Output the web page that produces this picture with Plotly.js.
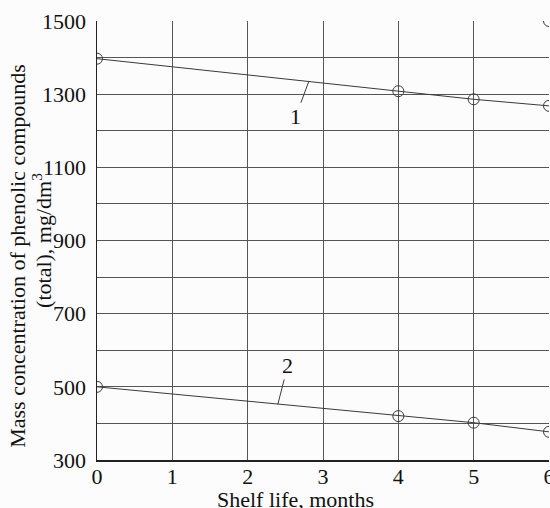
<!DOCTYPE html>
<html>
<head>
<meta charset="utf-8">
<script src="https://cdn.plot.ly/plotly-3.0.1.min.js"></script>
<style>html,body{margin:0;padding:0;background:#fdfcfd;}#chart{width:550px;height:508px;}</style>
</head>
<body>
<div id="chart"></div>
<script>
// Data
const months = [0, 4, 5, 6];
const series1 = [1397, 1308, 1286, 1268];
const series2 = [500, 420, 402, 377];
const extraX = [6];
const extraY = [1500];
const xTicks = [0, 1, 2, 3, 4, 5, 6];
const yTickVals = [300, 500, 700, 900, 1100, 1300, 1500];

const lineCol = '#3a3a3a';
const serif = 'Liberation Serif, Times New Roman, serif';
const txt = '#111';

const traces = [
  {x: months, y: series1, mode: 'lines+markers', name: '1',
   line: {color: lineCol, width: 1},
   marker: {symbol: 'circle-open', size: 11, color: lineCol, line: {width: 1}}},
  {x: months, y: series2, mode: 'lines+markers', name: '2',
   line: {color: lineCol, width: 1},
   marker: {symbol: 'circle-open', size: 11, color: lineCol, line: {width: 1}}},
  {x: extraX, y: extraY, mode: 'markers', showlegend: false,
   marker: {symbol: 'circle-open', size: 11, color: lineCol, line: {width: 1}}}
];

const layout = {
  width: 550, height: 508,
  margin: {l: 97, r: 1, t: 21, b: 48},
  paper_bgcolor: '#fdfcfd', plot_bgcolor: '#fdfcfd',
  showlegend: false,
  font: {family: serif, color: txt, size: 22},
  xaxis: {
    range: [0, 6], tickvals: xTicks, ticks: '', showgrid: true,
    gridcolor: '#555', gridwidth: 1, zeroline: false,
    showline: true, linecolor: '#222', linewidth: 1.5,
    tickfont: {family: serif, size: 22, color: txt},
    ticklabelstandoff: -4, ticklabeloverflow: 'allow',
    automargin: false, fixedrange: true
  },
  yaxis: {
    range: [300, 1500], tickvals: yTickVals, ticks: '',
    showgrid: true, gridcolor: '#555', gridwidth: 1, zeroline: false,
    minor: {dtick: 100, showgrid: true, gridcolor: '#555', gridwidth: 1},
    showline: true, linecolor: '#222', linewidth: 1.5,
    tickfont: {family: serif, size: 22, color: txt},
    ticklabelstandoff: 5, ticklabeloverflow: 'allow',
    automargin: false, fixedrange: true
  },
  annotations: [
    {x: 0.44, y: -0.09, xref: 'paper', yref: 'paper', text: 'Shelf life, months',
     showarrow: false, font: {family: serif, size: 22, color: txt}, xanchor: 'center', yanchor: 'middle'},
    {x: -0.175, y: 0.465, xref: 'paper', yref: 'paper',
     text: 'Mass concentration of phenolic compounds',
     textangle: -90, showarrow: false, xanchor: 'center', yanchor: 'middle',
     font: {family: serif, size: 22, color: txt}},
    {x: -0.123, y: 0.5, xref: 'paper', yref: 'paper',
     text: '(total), mg/dm<sup>3</sup>',
     textangle: -90, showarrow: false, xanchor: 'center', yanchor: 'middle',
     font: {family: serif, size: 22, color: txt}},
    {x: 2.81, y: 1334, xref: 'x', yref: 'y', text: '1', showarrow: true, arrowhead: 0,
     arrowwidth: 1, arrowcolor: lineCol, ax: -13, ay: 35,
     font: {family: serif, size: 22, color: txt}},
    {x: 2.40, y: 452, xref: 'x', yref: 'y', text: '2', showarrow: true, arrowhead: 0,
     arrowwidth: 1, arrowcolor: lineCol, ax: 10, ay: -39,
     font: {family: serif, size: 22, color: txt}}
  ]
};

Plotly.newPlot('chart', traces, layout, {displayModeBar: false, staticPlot: true});
</script>
</body>
</html>
